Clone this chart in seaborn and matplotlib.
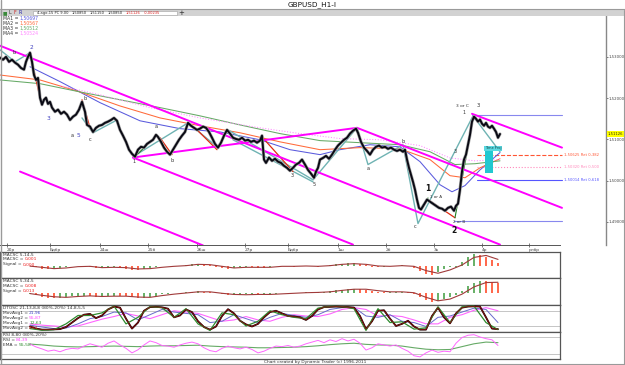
import numpy as np
import pandas as pd
import matplotlib
matplotlib.use("Agg")
import matplotlib.pyplot as plt
import seaborn as sns
from matplotlib.lines import Line2D
from matplotlib.patches import Rectangle
from matplotlib.text import Annotation
import matplotlib.transforms as mtransforms

# ---------------- data ----------------
title = "GBPUSD_H1-I"
footer = "Chart created by Dynamic Trader (c) 1996-2011"

# hourly bar index and close
price_bar = [0, 1.5, 3, 4.5, 6, 7.5, 9, 10.5, 12, 13,
             14, 15, 16, 17, 18, 19, 20, 21, 22, 23,
             24, 25, 26, 27.5, 29, 30.5, 32, 33.5, 35, 36.5,
             38, 39.5, 41, 42.5, 43.5, 45, 46.5, 48, 49.5, 51,
             52.5, 54, 55.5, 57, 58.5, 60, 61.5, 63, 64.5, 66,
             67.5, 69, 70.5, 72, 73.5, 75, 76.5, 78, 79, 80.5,
             82, 83.5, 85, 86.5, 88, 89.5, 91, 92.5, 94, 95.5,
             97, 98.5, 100, 101.5, 103, 104.5, 106, 107.5, 109, 110.5,
             112, 113.5, 115, 116.5, 118, 119.5, 121, 122.5, 124, 125.5,
             127, 128.5, 130, 131, 132, 133, 134.5, 136, 137.5, 139,
             140.5, 142, 143.5, 145, 146.5, 148, 149.5, 151, 152.5, 154,
             155.5, 157, 158, 159, 160, 161.5, 163, 164.5, 166, 167.5,
             169, 170.5, 172, 173.5, 175, 176.5, 178, 179, 180.5, 182,
             183.5, 185, 186.5, 188, 189.5, 191, 192.5, 194, 195.5, 197,
             198.5, 200, 201.5, 202.5, 203.5, 204.5, 205.5, 206.5, 207.5, 208.5,
             209.5, 210.5, 212, 213.5, 215, 216.5, 218, 219.5, 221, 222.5,
             224, 225.5, 227, 228, 229, 230, 231, 232, 233, 234,
             235, 236, 237, 238, 239, 240, 241, 242, 243, 244,
             245, 246, 247, 248, 249, 250]
price_close = [1.5298, 1.5293, 1.5300, 1.5288, 1.5293, 1.5286, 1.5281, 1.5273, 1.5269, 1.5288,
               1.5300, 1.5310, 1.5288, 1.5256, 1.5244, 1.5249, 1.5201, 1.5184, 1.5196, 1.5201,
               1.5186, 1.5191, 1.5177, 1.5167, 1.5172, 1.5162, 1.5167, 1.5160, 1.5147, 1.5155,
               1.5160, 1.5172, 1.5191, 1.5167, 1.5135, 1.5131, 1.5118, 1.5128, 1.5133, 1.5135,
               1.5140, 1.5143, 1.5147, 1.5152, 1.5145, 1.5123, 1.5109, 1.5094, 1.5075, 1.5065,
               1.5058, 1.5075, 1.5082, 1.5080, 1.5089, 1.5094, 1.5099, 1.5111, 1.5106, 1.5094,
               1.5080, 1.5070, 1.5063, 1.5075, 1.5087, 1.5099, 1.5109, 1.5118, 1.5140, 1.5133,
               1.5128, 1.5123, 1.5126, 1.5131, 1.5128, 1.5118, 1.5104, 1.5089, 1.5080, 1.5092,
               1.5109, 1.5123, 1.5114, 1.5104, 1.5101, 1.5099, 1.5104, 1.5097, 1.5099, 1.5094,
               1.5097, 1.5092, 1.5097, 1.5109, 1.5051, 1.5043, 1.5056, 1.5048, 1.5053, 1.5046,
               1.5043, 1.5036, 1.5031, 1.5024, 1.5031, 1.5039, 1.5043, 1.5051, 1.5039, 1.5026,
               1.5017, 1.5007, 1.5022, 1.5031, 1.5051, 1.5055, 1.5060, 1.5053, 1.5063, 1.5075,
               1.5085, 1.5092, 1.5099, 1.5104, 1.5114, 1.5121, 1.5126, 1.5116, 1.5094, 1.5080,
               1.5072, 1.5063, 1.5075, 1.5082, 1.5085, 1.5080, 1.5082, 1.5077, 1.5080, 1.5075,
               1.5072, 1.5075, 1.5070, 1.5075, 1.5051, 1.5031, 1.5014, 1.4997, 1.4978, 1.4954,
               1.4934, 1.4930, 1.4942, 1.4954, 1.4949, 1.4944, 1.4939, 1.4934, 1.4932, 1.4927,
               1.4934, 1.4937, 1.4927, 1.4939, 1.4944, 1.4978, 1.5022, 1.5051, 1.5063, 1.5087,
               1.5111, 1.5143, 1.5155, 1.5150, 1.5143, 1.5148, 1.5138, 1.5133, 1.5140, 1.5131,
               1.5128, 1.5133, 1.5126, 1.5118, 1.5104, 1.5113]
last_close = 1.51126

# moving averages
ma1_bar = [15, 30, 50, 70, 90, 110, 130, 145, 160, 170, 185, 200, 210, 220, 226, 232.5, 240, 250]
ma1 = [1.5276, 1.5240, 1.5189, 1.5145, 1.5126, 1.5118, 1.5099, 1.5075, 1.5063, 1.5075,
       1.5087, 1.5082, 1.5046, 1.4990, 1.4973, 1.4988, 1.5026, 1.5068]
ma2_bar = [0, 20, 40, 60, 80, 100, 120, 140, 160, 180, 200, 215, 225, 232.5, 240, 250]
ma2 = [1.5256, 1.5244, 1.5215, 1.5181, 1.5152, 1.5133, 1.5116, 1.5094, 1.5075, 1.5080,
       1.5077, 1.5051, 1.5012, 1.5007, 1.5031, 1.5053]
ma3_bar = [0, 20, 40, 60, 80, 100, 120, 140, 160, 180, 200, 215, 227.5, 237.5, 250]
ma3 = [1.5244, 1.5235, 1.5215, 1.5196, 1.5177, 1.5157, 1.5135, 1.5114, 1.5097, 1.5092,
       1.5087, 1.5070, 1.5039, 1.5041, 1.5048]
ma4_bar = [30, 50, 75, 100, 130, 150, 170, 190, 210, 225, 237.5, 250]
ma4 = [1.5230, 1.5208, 1.5177, 1.5152, 1.5128, 1.5114, 1.5102, 1.5099, 1.5085, 1.5055,
       1.5048, 1.5051]
ma_names = ["MA1", "MA2", "MA3", "MA4"]
ma_values = ["1,50697", "1,50567", "1,50512", "1,50524"]

# channel lines (start bar, start price, end bar, end price)
chan_x0 = [0, 66.5, 178.5, 66.5, 10, 236]
chan_p0 = [1.5327, 1.5056, 1.5128, 1.5056, 1.5022, 1.5162]
chan_x1 = [250, 178.5, 281, 176.5, 101.5, 281]
chan_p1 = [1.4845, 1.5128, 1.4934, 1.4845, 1.4843, 1.5080]

# horizontal swing levels
level_price = [1.5160, 1.4903]
level_x0 = [236, 227]
level_x1 = 281

# retracements
fib_price = [1.50625, 1.50320, 1.50014]
fib_ratio = ["0,382", "0,500", "0,618"]
fib_x0 = 238.5

# time projection box
tp_x0, tp_x1 = 242.5, 246.5
tp_p0, tp_p1 = 1.5019, 1.5078

# wave zigzags
teal_paths = [
    [(0, 1.5317), (7.5, 1.5288), (15, 1.5310)],
    [(41, 1.5152), (46.5, 1.5116), (58.5, 1.5147)],
    [(66.5, 1.5058), (94, 1.5140), (109, 1.5080), (114, 1.5123), (156.5, 1.5002)],
    [(116.5, 1.5099), (156.5, 1.4997)],
    [(156.5, 1.5002), (178.5, 1.5128)],
    [(178.5, 1.5128), (184, 1.5039), (201.5, 1.5087), (209, 1.4896), (236.5, 1.5157), (250, 1.5070)],
]
red_paths = [
    [(15, 1.5310), (20, 1.5201)],
    [(41, 1.5196), (45, 1.5128)],
    [(80, 1.5104), (86, 1.5063)],
    [(97.5, 1.5128), (108.5, 1.5075)],
    [(131, 1.5106), (146.5, 1.5022)],
    [(214, 1.4954), (227.5, 1.4910)],
]
green_paths = [
    [(67.5, 1.5058), (78.5, 1.5111)],
    [(210, 1.4930), (214, 1.4958)],
    [(227.5, 1.4910), (236.5, 1.5150)],
]

# wave labels: (bar, price, text, color, size, weight)
wave_labels = [
    (15.5, 1.5322, "2", "#4040c0", 4.2, "normal"),
    (7, 1.5310, "b", "#333333", 3.6, "normal"),
    (24, 1.5150, "3", "#4040c0", 4.2, "normal"),
    (42.5, 1.5200, "b", "#333333", 3.6, "normal"),
    (39, 1.5109, "5", "#4040c0", 4.2, "normal"),
    (36, 1.5109, "a", "#333333", 3.6, "normal"),
    (45, 1.5100, "c", "#333333", 3.6, "normal"),
    (67, 1.5047, "1", "#333333", 3.6, "normal"),
    (78, 1.5132, "a", "#333333", 3.6, "normal"),
    (86, 1.5050, "b", "#333333", 3.6, "normal"),
    (146, 1.5012, "3", "#333333", 3.6, "normal"),
    (157, 1.4990, "5", "#333333", 3.6, "normal"),
    (184, 1.5030, "a", "#333333", 3.6, "normal"),
    (201.5, 1.5095, "b", "#333333", 3.6, "normal"),
    (207.5, 1.4888, "c", "#333333", 3.6, "normal"),
    (214, 1.4980, "1", "#111111", 5.5, "bold"),
    (218, 1.4961, "1 or A", "#333333", 3.0, "normal"),
    (227, 1.4879, "2", "#111111", 5.5, "bold"),
    (229.5, 1.4899, "2 or B", "#333333", 3.0, "normal"),
    (227.5, 1.5071, "3", "#333333", 3.6, "normal"),
    (231, 1.5182, "3 or C", "#333333", 3.2, "normal"),
    (239, 1.5182, "3", "#333333", 3.8, "normal"),
    (232, 1.5165, "1", "#333333", 3.4, "normal"),
]

# axes ticks
price_ticks = [1.49, 1.50, 1.51, 1.52, 1.53]
price_tick_labels = ["1,49000", "1,50000", "1,51000", "1,52000", "1,53000"]
date_tick_bar = [3.5, 25, 50, 74, 98.5, 122.5, 144, 169, 193, 217, 241, 264.5]
date_tick_labels = ["20р", "Бдбр", "24ш", "25б", "26ш", "27р", "Бдбр", "1ш", "2б", "3ь", "4р", "рлбр"]

# toolbar quote
quote_parts = [("4-ago-15 PC 9.00", "#222222"), ("1,50850", "#222222"), ("1,51150", "#222222"),
               ("1,50850", "#222222"), ("1,51126", "#dd2222"), ("-0,00235", "#dd2222")]

# oscillators: bar index every 3 bars (histograms, fast lines) / every 6 bars (slow lines)
osc_bar = np.arange(15, 250, 3)
slow_bar = np.arange(15, 250, 6)

macd1_hist = [-0.1, -0.3, -0.8, -1.0, -0.9, -0.7, -0.4, -0.1, 0.1, 0.0,
              -0.4, -0.7, -0.6, -0.3, -0.2, -0.4, -0.8, -1.1, -1.2, -1.0,
              -0.6, -0.3, -0.1, 0.1, 0.0, -0.1, 0.3, 0.6, 0.7, 0.5,
              0.2, -0.2, -0.5, -0.8, -0.7, -0.4, -0.2, -0.3, -0.5, -0.6,
              -0.3, -0.1, 0.1, 0.0, -0.2, -0.1, 0.1, 0.0, -0.2, 0.0,
              0.3, 0.6, 0.7, 0.8, 0.8, 0.6, 0.2, -0.2, -0.3, -0.2,
              0.0, 0.1, 0.2, 0.1, -0.5, -1.5, -2.4, -2.6, -1.8, -0.9,
              -0.4, -0.2, 1.2, 2.8, 3.6, 3.4, 2.6, 1.8, 0.9]
macd1_signal = [-0.05, -0.4, -0.8, -0.6, -0.2, -0.1, -0.5, -0.4, -0.5, -0.9,
                -0.8, -0.4, -0.1, 0.1, 0.5, 0.4, -0.1, -0.6, -0.4, -0.4,
                -0.4, -0.1, -0.1, 0.0, -0.1, 0.1, 0.5, 0.7, 0.5, 0.0,
                -0.1, 0.1, -0.1, -1.4, -2.2, -1.2, 0.3, 2.6, 3.2, 2.0]
macd2_hist = [-0.5, -0.9, -1.4, -1.7, -1.8, -1.7, -1.5, -1.3, -1.1, -1.0,
              -1.2, -1.4, -1.4, -1.2, -1.0, -1.1, -1.3, -1.6, -1.8, -1.7,
              -1.4, -1.0, -0.6, -0.3, -0.2, -0.1, 0.2, 0.4, 0.5, 0.4,
              0.1, -0.2, -0.5, -0.8, -0.8, -0.7, -0.6, -0.6, -0.7, -0.7,
              -0.6, -0.4, -0.2, -0.1, -0.1, 0.0, 0.1, 0.1, 0.1, 0.3,
              0.6, 0.9, 1.1, 1.3, 1.4, 1.3, 1.0, 0.6, 0.3, 0.2,
              0.2, 0.3, 0.3, 0.1, -0.6, -1.6, -2.6, -3.2, -3.0, -2.2,
              -1.5, -0.9, 0.6, 2.2, 3.4, 4.0, 3.9, 3.6, 3.3]
macd2_signal = [-0.3, -0.9, -1.4, -1.6, -1.3, -1.1, -1.3, -1.2, -1.2, -1.5,
                -1.6, -1.0, -0.5, -0.1, 0.3, 0.3, -0.2, -0.6, -0.7, -0.6,
                -0.6, -0.4, -0.2, 0.0, 0.1, 0.3, 0.8, 1.2, 1.2, 0.7,
                0.3, 0.3, 0.0, -1.6, -2.8, -2.2, -0.5, 2.0, 3.5, 3.6]
dtosc_fast = [20, 12, 8, 8, 9, 10, 18, 35, 52, 65,
              68, 52, 62, 85, 96, 92, 50, 12, 35, 80,
              94, 95, 93, 88, 55, 62, 85, 75, 40, 18,
              8, 20, 60, 86, 70, 42, 28, 20, 30, 55,
              75, 80, 70, 60, 58, 55, 45, 60, 85, 94,
              95, 96, 95, 94, 92, 60, 10, 40, 80, 82,
              50, 22, 30, 42, 20, 8, 8, 60, 92, 55,
              32, 70, 92, 96, 97, 96, 55, 12, 10]
dtosc_green = [12, 6, 8, 30, 62, 62, 72, 98, 30, 55,
               96, 92, 55, 88, 30, 5, 72, 65, 22, 40,
               80, 65, 55, 50, 90, 97, 96, 88, 5, 88,
               35, 38, 10, 15, 95, 35, 95, 98, 35, 8]
dtosc_blue = [25, 18, 12, 14, 30, 50, 58, 75, 72, 45,
              65, 85, 75, 70, 65, 35, 40, 65, 50, 35,
              55, 70, 62, 55, 65, 85, 92, 93, 60, 55,
              65, 40, 35, 20, 55, 60, 75, 90, 85, 35]
dtosc_magenta = [30, 25, 22, 18, 22, 35, 48, 58, 70, 60,
                 50, 65, 80, 75, 70, 55, 40, 45, 58, 45,
                 40, 55, 65, 60, 58, 68, 85, 92, 85, 60,
                 62, 58, 45, 30, 30, 55, 65, 82, 92, 80]
rsi = [55, 45, 38, 30, 34, 28, 36, 40, 38, 48,
       56, 50, 44, 58, 66, 52, 40, 24, 35, 52,
       66, 60, 50, 48, 44, 52, 58, 62, 56, 42,
       32, 28, 40, 48, 42, 38, 44, 36, 24, 30,
       40, 48, 46, 50, 44, 48, 56, 62, 68, 60,
       70, 64, 74, 66, 72, 58, 34, 42, 56, 52,
       48, 52, 40, 30, 14, 10, 24, 34, 26, 30,
       28, 58, 78, 86, 88, 80, 74, 70, 50]
rsi_ema = [55, 52, 48, 46, 45, 46, 47, 48, 47, 46,
           48, 49, 49, 50, 51, 48, 46, 45, 44, 42,
           42, 43, 44, 46, 49, 53, 56, 58, 54, 52,
           51, 48, 42, 37, 35, 36, 46, 56, 62, 60]

# ---------------- figure ----------------
sns.set_theme(style="white")
plt.rcParams["font.family"] = ["DejaVu Sans"]
W, H = 625, 365
fig = plt.figure(figsize=(W / 100, H / 100), dpi=100)
fig.patch.set_facecolor("white")


def fx(px):
    return px / W


def fy(py):
    return 1 - py / H


def rect(px0, py0, px1, py1):
    return [fx(px0), fy(py1), fx(px1) - fx(px0), fy(py0) - fy(py1)]


def sline(ax, x, y, color, lw, ls="-", z=2):
    df = pd.DataFrame({"x": list(x), "y": list(y)})
    sns.lineplot(data=df, x="x", y="y", ax=ax, color=color, lw=lw, linestyle=ls,
                 estimator=None, sort=False, legend=False, zorder=z)
    ax.set_xlabel("")
    ax.set_ylabel("")


def chain(parts, px, py, fs, gap=0.0):
    """Write coloured text pieces one after another on one row (figure pixels)."""
    prev = fig.text(fx(px), fy(py), parts[0][0], fontsize=fs, color=parts[0][1],
                    ha="left", va="center")
    for txt, col in parts[1:]:
        an = Annotation(txt, xy=(1, 0.5), xycoords=prev, xytext=(gap, 0),
                        textcoords="offset points", fontsize=fs, color=col,
                        ha="left", va="center", annotation_clip=False)
        fig.add_artist(an)
        prev = an


# title bar + toolbar
fig.text(fx(312), fy(4.6), title, ha="center", va="center", fontsize=5.2, color="#111111")
fig.add_artist(Line2D([0, 1], [fy(9.3), fy(9.3)], color="#9a9a9a", lw=0.8))
fig.add_artist(Rectangle((0, fy(16)), 1, fy(9.8) - fy(16), transform=fig.transFigure,
                         facecolor="#d2d2d2", edgecolor="none"))
fig.add_artist(Rectangle((fx(33), fy(15.3)), fx(177) - fx(33), fy(10.6) - fy(15.3),
                         transform=fig.transFigure, facecolor="white", edgecolor="#a0a0a0", lw=0.4))
for px, t, c in [(3, "■", "#3a8a3a"), (8.5, "L", "#333333"), (13.5, "F", "#cc2222"), (18.5, "R", "#2222aa")]:
    fig.text(fx(px), fy(13), t, ha="left", va="center", fontsize=3.4, color=c)
chain(quote_parts, 37, 13, 2.6, gap=2.2)
fig.text(fx(181), fy(13), "+", ha="center", va="center", fontsize=5, color="#222222")

# ---------------- price panel ----------------
ax = fig.add_axes(rect(0, 16, 606, 245))
ax.set_facecolor("white")
ax.set_xlim(0, 303)
ax.set_ylim(1.4844, 1.5399)

for x0, p0, x1, p1 in zip(chan_x0, chan_p0, chan_x1, chan_p1):
    sline(ax, [x0, x1], [p0, p1], "#ff00ff", 1.4, z=3)

for p, x0 in zip(level_price, level_x0):
    sline(ax, [x0, level_x1], [p, p], "#8888ee", 0.8, z=2)

fib_colors = ["#ff5533", "#ff88bb", "#5555ff"]
fib_styles = ["--", ":", "-"]
for p, r, c, ls in zip(fib_price, fib_ratio, fib_colors, fib_styles):
    sline(ax, [fib_x0, level_x1], [p, p], c, 0.8, ls=ls, z=2)
    ax.text(level_x1 + 0.8, p, f"{p:.5f}".replace(".", ",") + " Ret " + r, fontsize=2.7,
            color=c, ha="left", va="center")

ma_colors = ["#5a5add", "#ff6a3a", "#66aa66", "#ff88ff"]
for xs, ys, c, ls in zip([ma1_bar, ma2_bar, ma3_bar, ma4_bar], [ma1, ma2, ma3, ma4],
                         ma_colors, ["-", "-", "-", ":"]):
    sline(ax, xs, ys, c, 0.75, ls=ls, z=2)

for path in teal_paths:
    sline(ax, [p[0] for p in path], [p[1] for p in path], "#6fb3b3", 1.0, z=2)
for path in red_paths:
    sline(ax, [p[0] for p in path], [p[1] for p in path], "#e02a10", 0.9, z=2)
for path in green_paths:
    sline(ax, [p[0] for p in path], [p[1] for p in path], "#1f7f1f", 0.8, z=2)

sline(ax, price_bar, price_close, "#a8a8a8", 2.3, z=4)
sline(ax, price_bar, price_close, "#0a0a14", 1.4, z=5)

ax.add_patch(Rectangle((tp_x0, tp_p0), tp_x1 - tp_x0, tp_p1 - tp_p0 - 0.0007,
                       facecolor="#22c8d0", edgecolor="none", zorder=6))
ax.text(tp_x0, tp_p1, "Time Proj", fontsize=2.5, color="#114444", ha="left", va="center",
        zorder=7, bbox=dict(boxstyle="square,pad=0.15", facecolor="#5ad8e0", edgecolor="none"))

for bx, bp, t, c, s, w in wave_labels:
    ax.text(bx, bp, t, fontsize=s, color=c, fontweight=w, ha="center", va="center", zorder=8)

for i, (n, v, c) in enumerate(zip(ma_names, ma_values, ma_colors)):
    chain([(n + " =", "#333333"), (v, c)], 3, 18.5 + 5 * i, 3.3, gap=0.6)

ax.yaxis.tick_right()
ax.set_yticks(price_ticks)
ax.set_yticklabels(price_tick_labels)
ax.set_xticks(date_tick_bar)
ax.set_xticklabels(date_tick_labels)
for lab in ax.get_xticklabels():
    lab.set_ha("left")
ax.tick_params(axis="y", which="both", right=True, left=False, length=1.5, width=0.5,
               labelsize=2.8, pad=0.6, colors="#444444")
ax.tick_params(axis="x", which="both", bottom=True, length=3, width=0.5, direction="inout",
               labelsize=3.2, pad=0.5, colors="#444444")
for s in ["top", "left"]:
    ax.spines[s].set_visible(False)
ax.spines["right"].set_color("#888888")
ax.spines["right"].set_linewidth(1.0)
ax.spines["bottom"].set_color("#555555")
ax.spines["bottom"].set_linewidth(0.7)
ax.spines["bottom"].set_bounds(0, 280)

tr = mtransforms.blended_transform_factory(ax.transAxes, ax.transData)
ax.text(1.003, last_close, f"{last_close:.5f}".replace(".", ","), transform=tr, fontsize=2.7,
        color="#333300", ha="left", va="center", zorder=9,
        bbox=dict(boxstyle="square,pad=0.2", facecolor="#ffff00", edgecolor="none"))

# ---------------- oscillator panels ----------------
panels = [(252, 278), (278, 305), (305, 332), (332, 359)]
oaxes = []
for (t, b) in panels:
    oa = fig.add_axes(rect(0, t, 560, b))
    oa.set_xlim(0, 280)
    oa.set_xticks([])
    oa.set_yticks([])
    oa.set_facecolor("white")
    for s in oa.spines.values():
        s.set_color("#555555")
        s.set_linewidth(0.9)
    oaxes.append(oa)


def hist_colors(vals):
    cols = []
    prev = vals[0]
    for v in vals:
        cols.append("#5aaa5a" if v >= prev else "#ff5a3c")
        prev = v
    return cols


# MACD 5,14,5
a1 = oaxes[0]
a1.set_ylim(-3.64, 4.24)
a1.vlines(osc_bar, 0, macd1_hist, colors=hist_colors(macd1_hist), lw=1.3)
sline(a1, slow_bar, macd1_signal, "#a03a3a", 0.8, z=3)
# MACD 5,34,5
a2 = oaxes[1]
a2.set_ylim(-4.24, 5.07)
a2.vlines(osc_bar, 0, macd2_hist, colors=hist_colors(macd2_hist), lw=1.3)
sline(a2, slow_bar, macd2_signal, "#a03a3a", 0.8, z=3)
# DTOSC
a3 = oaxes[2]
a3.set_ylim(-1, 102)
for lv in [20, 80]:
    a3.axhline(lv, color="#bbbbbb", lw=0.6, zorder=1)
sline(a3, slow_bar, dtosc_magenta, "#ff66ff", 0.8, z=2)
sline(a3, slow_bar, dtosc_blue, "#6a6acc", 0.7, z=2)
sline(a3, osc_bar, dtosc_fast, "#1a0000", 1.3, z=3)
sline(a3, osc_bar, dtosc_fast, "#8a1010", 0.6, z=4)
sline(a3, slow_bar, dtosc_green, "#2e8b2e", 0.9, z=3)
# RSI
a4 = oaxes[3]
a4.set_ylim(2.5, 97.5)
for lv in [20, 80]:
    a4.axhline(lv, color="#bbbbbb", lw=0.6, zorder=1)
sline(a4, slow_bar, rsi_ema, "#66aa66", 0.8, z=2)
sline(a4, osc_bar, rsi, "#ff66ff", 0.7, z=3)

# panel labels
label_rows = [
    (254.5, [("MACSC 5,14,5", "#333333")]),
    (259.5, [("MACSC =", "#333333"), ("0,001", "#ee2222")]),
    (264.5, [("Signal =", "#333333"), ("0,000", "#ee2222")]),
    (281, [("MACSC 5,34,5", "#333333")]),
    (286, [("MACSC =", "#333333"), ("0,008", "#ee2222")]),
    (291, [("Signal =", "#333333"), ("0,013", "#ee2222")]),
    (307.8, [("DTOSC 21,13,8,8 (80%-20%) 14,8,5,5", "#333333")]),
    (312.8, [("MovAvg1 =", "#333333"), ("21,96", "#4444cc")]),
    (317.8, [("MovAvg2 =", "#333333"), ("55,87", "#ff44ff")]),
    (322.8, [("MovAvg1 =", "#333333"), ("12,63", "#2e8b2e")]),
    (327.8, [("MovAvg2 =", "#333333"), ("8,51", "#cc2222")]),
    (335.5, [("RSI 8,80 (80%-20%)", "#333333")]),
    (340.3, [("RSI =", "#333333"), ("84,39", "#ff44ff")]),
    (345, [("EMA =", "#333333"), ("55,58", "#2e8b2e")]),
]
for yy, parts in label_rows:
    chain(parts, 3, yy, 3.2, gap=0.8)

fig.text(fx(315), fy(362), footer, fontsize=3.1, color="#333333", ha="center", va="center")

# window frame
fig.add_artist(Line2D([fx(0.5), fx(0.5)], [0, 1], color="#9a9a9a", lw=1.0))
fig.add_artist(Line2D([fx(623.5), fx(623.5)], [0, fy(9.5)], color="#9a9a9a", lw=0.8))
fig.add_artist(Line2D([0, 1], [fy(363.8), fy(363.8)], color="#9a9a9a", lw=0.8))

fig.savefig("out.png", dpi=100, facecolor="white")
